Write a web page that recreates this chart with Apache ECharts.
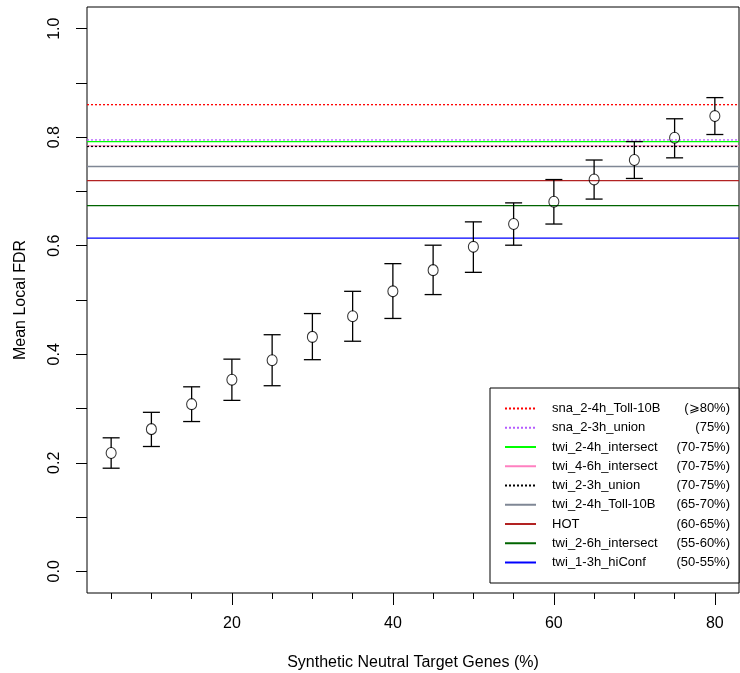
<!DOCTYPE html>
<html>
<head>
<meta charset="utf-8">
<script src="https://cdn.jsdelivr.net/npm/echarts@6/dist/echarts.min.js"></script>
<style>
  html, body { margin: 0; padding: 0; background: #fff; }
  #chart { width: 740px; height: 673px; }
</style>
</head>
<body>
<div id="chart"></div>
<script>
// synthetic neutral target genes (%) and mean local FDR with CI
const pct = [5, 10, 15, 20, 25, 30, 35, 40, 45, 50, 55, 60, 65, 70, 75, 80]
const meanFdr = [0.218, 0.262, 0.308, 0.353, 0.389, 0.432, 0.470, 0.516, 0.555, 0.598, 0.640, 0.681, 0.722, 0.758, 0.799, 0.839]
const upperCi = [0.246, 0.293, 0.340, 0.391, 0.436, 0.475, 0.516, 0.567, 0.601, 0.644, 0.679, 0.722, 0.758, 0.792, 0.834, 0.873]
const lowerCi = [0.190, 0.230, 0.276, 0.315, 0.342, 0.390, 0.424, 0.466, 0.510, 0.551, 0.601, 0.640, 0.686, 0.724, 0.762, 0.805]

// reference data sets (horizontal lines)
const refNames = ['sna_2-4h_Toll-10B', 'sna_2-3h_union', 'twi_2-4h_intersect', 'twi_4-6h_intersect',
  'twi_2-3h_union', 'twi_2-4h_Toll-10B', 'HOT', 'twi_2-6h_intersect', 'twi_1-3h_hiConf']
const refRanges = ['(\u2A7E80%)', '(75%)', '(70-75%)', '(70-75%)', '(70-75%)', '(65-70%)', '(60-65%)', '(55-60%)', '(50-55%)']
const refValues = [0.860, 0.795, 0.792, 0.784, 0.783, 0.746, 0.720, 0.674, 0.614]
const refColors = ['#ff0000', '#b55cff', '#00ff00', '#ff80c0', '#000000', '#7f8795', '#b22222', '#006400', '#0000ff']
const refDotted = [true, true, false, false, true, false, false, false, false]

const xTicks = [5, 10, 15, 20, 25, 30, 35, 40, 45, 50, 55, 60, 65, 70, 75, 80]
const xLabels = [20, 40, 60, 80]
const yTicks = [0, 0.1, 0.2, 0.3, 0.4, 0.5, 0.6, 0.7, 0.8, 0.9, 1.0]
const yLabels = [0, 0.2, 0.4, 0.6, 0.8, 1.0]

const xMin = 2, xMax = 83
const font = 'Liberation Sans, Arial, Helvetica, sans-serif'

let chart = echarts.init(document.getElementById('chart'))

let rangeOf = {}
refNames.forEach((n, i) => { rangeOf[n] = refRanges[i] })

let lineSeries = refNames.map((n, i) => ({
  name: n,
  type: 'line',
  symbol: 'none',
  silent: true,
  data: [[xMin, refValues[i]], [xMax, refValues[i]]],
  lineStyle: {
    color: refColors[i],
    width: 1.3,
    type: refDotted[i] ? [2, 2] : 'solid'
  },
  itemStyle: { color: refColors[i] },
  z: 2
}))

const option = {
  animation: false,
  backgroundColor: '#fff',
  textStyle: { fontFamily: font, color: '#000' },
  grid: {
    left: 87, right: 1, top: 7, bottom: 80,
    outerBoundsMode: 'none',
    containLabel: false,
    show: true, borderColor: '#000', borderWidth: 1, backgroundColor: 'transparent'
  },
  legend: {
    orient: 'vertical',
    left: 490, top: 388,
    padding: [14, 9, 14, 14],
    borderColor: '#000', borderWidth: 1,
    backgroundColor: '#fff',
    itemWidth: 31, itemHeight: 14, itemGap: 6.25,
    itemStyle: { color: 'rgba(0,0,0,0)', borderWidth: 0, opacity: 0 },
    data: refNames,
    formatter: (name) => '{n|' + name + '}{p|' + rangeOf[name] + '}',
    textStyle: {
      fontFamily: font, fontSize: 13, color: '#000',
      rich: {
        n: { fontFamily: font, fontSize: 13, width: 121, padding: [0, 0, 0, 11], lineHeight: 14 },
        p: { fontFamily: font, fontSize: 13, width: 57, align: 'right', lineHeight: 14 }
      }
    },
    selectedMode: false
  },
  xAxis: [
    {
      type: 'value', min: xMin, max: xMax, position: 'bottom',
      name: 'Synthetic Neutral Target Genes (%)',
      nameLocation: 'middle', nameGap: 62,
      nameTextStyle: { fontSize: 16, fontFamily: font, color: '#000' },
      axisLine: { show: false, onZero: false },
      splitLine: { show: false },
      axisTick: { show: true, length: 12, customValues: xLabels, lineStyle: { color: '#000' } },
      axisLabel: { customValues: xLabels, fontSize: 16, margin: 23, color: '#000', fontFamily: font }
    },
    {
      type: 'value', min: xMin, max: xMax, position: 'bottom',
      axisLine: { show: false, onZero: false },
      splitLine: { show: false },
      axisTick: { show: true, length: 6, customValues: xTicks, lineStyle: { color: '#000' } },
      axisLabel: { show: false }
    }
  ],
  yAxis: {
    type: 'value', min: -0.04, max: 1.04,
    name: 'Mean Local FDR',
    nameLocation: 'middle', nameGap: 58,
    nameTextStyle: { fontSize: 16, fontFamily: font, color: '#000' },
    axisLine: { show: false, onZero: false },
    splitLine: { show: false },
    axisTick: { show: true, length: 11, customValues: yTicks, lineStyle: { color: '#000' } },
    axisLabel: {
      customValues: yLabels, rotate: 90, fontSize: 16, margin: 24, color: '#000', fontFamily: font,
      formatter: (v) => v.toFixed(1)
    }
  },
  series: lineSeries.concat([
    {
      name: 'ci',
      type: 'custom',
      silent: true,
      data: pct.map((p, i) => [p, lowerCi[i], upperCi[i], meanFdr[i]]),
      renderItem: function (params, api) {
        let x = api.value(0)
        let lo = api.coord([x, api.value(1)])
        let hi = api.coord([x, api.value(2)])
        let c = api.coord([x, api.value(3)])
        let r = 5, w = 8.5
        let st = { stroke: '#000', lineWidth: 1.3 }
        return {
          type: 'group',
          children: [
            { type: 'line', shape: { x1: c[0], y1: hi[1], x2: c[0], y2: c[1] - r }, style: st },
            { type: 'line', shape: { x1: c[0], y1: c[1] + r, x2: c[0], y2: lo[1] }, style: st },
            { type: 'line', shape: { x1: c[0] - w, y1: hi[1], x2: c[0] + w, y2: hi[1] }, style: st },
            { type: 'line', shape: { x1: c[0] - w, y1: lo[1], x2: c[0] + w, y2: lo[1] }, style: st }
          ]
        }
      },
      z: 3
    },
    {
      name: 'mean',
      type: 'scatter',
      silent: true,
      symbol: 'circle',
      symbolSize: [10, 11],
      data: pct.map((p, i) => [p, meanFdr[i]]),
      itemStyle: { color: 'rgba(0,0,0,0)', borderColor: '#000', borderWidth: 1.1 },
      z: 4
    }
  ])
}

chart.setOption(option, true)
</script>
</body>
</html>
